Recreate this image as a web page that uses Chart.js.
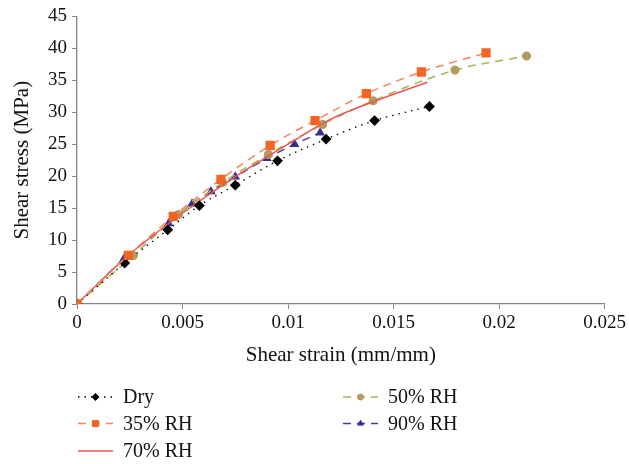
<!DOCTYPE html>
<html lang="en">
<head>
    <meta charset="UTF-8">
    <title>Shear stress vs shear strain</title>
    <script src="https://cdn.jsdelivr.net/npm/chart.js"></script>
    <style>
        html, body { margin: 0; padding: 0; background: #fff; }
        #wrap { width: 629px; height: 464px; position: relative; }
    </style>
</head>
<body>
    <div id="wrap"><canvas id="chart"></canvas></div>

    <script>
        // values
        const dryX = [0, 0.00226, 0.0043, 0.0058, 0.0075, 0.0095, 0.0118, 0.0141, 0.0167];
        const dryY = [0, 6.4, 11.6, 15.4, 18.6, 22.4, 25.8, 28.7, 30.9];

        const rh35X = [0, 0.00243, 0.00456, 0.00682, 0.00915, 0.01128, 0.01371, 0.01632, 0.01938];
        const rh35Y = [0, 7.6, 13.7, 19.5, 24.8, 28.7, 32.9, 36.3, 39.3];

        const rh50X = [0, 0.00267, 0.00481, 0.0069, 0.00907, 0.01164, 0.01403, 0.01791, 0.0213];
        const rh50Y = [0, 7.6, 14.0, 19.0, 23.4, 28.1, 31.8, 36.6, 38.8];

        const rh70X = [0, 0.0025, 0.005, 0.0075, 0.01, 0.012, 0.014, 0.0166];
        const rh70Y = [0, 7.8, 14.2, 19.9, 25.0, 28.9, 31.6, 34.7];

        const rh90X = [0, 0.00221, 0.00434, 0.00545, 0.00635, 0.0075, 0.009, 0.01031, 0.01152];
        const rh90Y = [0, 7.0, 12.6, 15.7, 17.6, 19.9, 22.8, 25.0, 26.8];

        const xTicks = [0, 0.005, 0.01, 0.015, 0.02, 0.025];
        const yTicks = [0, 5, 10, 15, 20, 25, 30, 35, 40, 45];

        const FONT = "'Liberation Serif', 'DejaVu Serif', serif";

        function pts(xs, ys) {
            return xs.map((x, i) => ({x: x, y: ys[i]}));
        }

        const datasets = [{
            label: 'Dry',
            data: pts(dryX, dryY),
            order: 1,
            borderColor: '#000',
            borderWidth: 1.3,
            borderDash: [1.5, 5],
            pointStyle: 'rectRot',
            pointRadius: 4.5,
            pointBackgroundColor: '#000',
            pointBorderColor: '#000',
            legendCol: 0, legendRow: 0
        }, {
            label: '35% RH',
            data: pts(rh35X, rh35Y),
            order: 0,
            borderColor: '#F5855A',
            borderWidth: 1.5,
            borderDash: [8, 6],
            pointStyle: 'rect',
            pointRadius: 5.5,
            pointBackgroundColor: '#F26522',
            pointBorderColor: '#F26522',
            legendCol: 0, legendRow: 1
        }, {
            label: '70% RH',
            data: pts(rh70X, rh70Y),
            order: 1,
            borderColor: '#EC5555',
            borderWidth: 1.5,
            borderDash: [],
            pointRadius: 0,
            legendCol: 0, legendRow: 2
        }, {
            label: '50% RH',
            data: pts(rh50X, rh50Y),
            order: 1,
            borderColor: '#A6B44E',
            borderWidth: 1.5,
            borderDash: [8, 6],
            pointStyle: 'circle',
            pointRadius: 3.8,
            pointBackgroundColor: '#B39B62',
            pointBorderColor: '#B39B62',
            legendCol: 1, legendRow: 0
        }, {
            label: '90% RH',
            data: pts(rh90X, rh90Y),
            order: 1,
            borderColor: '#3F3F9F',
            borderWidth: 1.5,
            borderDash: [8, 6],
            pointStyle: 'triangle',
            pointRadius: 4,
            pointBackgroundColor: '#2E3192',
            pointBorderColor: '#2E3192',
            legendCol: 1, legendRow: 1
        }];

        // two-column legend under the plot, drawn on the canvas
        const sideLegend = {
            id: 'sideLegend',
            afterDraw(chart) {
                const ctx = chart.ctx;
                const colX = [78, 343];
                const rowY = [397, 423.5, 451];
                ctx.save();
                chart.data.datasets.forEach(ds => {
                    const x0 = colX[ds.legendCol];
                    const y = rowY[ds.legendRow];
                    ctx.strokeStyle = ds.borderColor;
                    ctx.lineWidth = ds.borderWidth;
                    ctx.setLineDash(ds.borderDash || []);
                    ctx.beginPath();
                    ctx.moveTo(x0, y);
                    ctx.lineTo(x0 + 35, y);
                    ctx.stroke();
                    ctx.setLineDash([]);
                    if (ds.pointRadius > 0) {
                        ctx.fillStyle = ds.pointBackgroundColor;
                        ctx.strokeStyle = ds.pointBorderColor;
                        ctx.lineWidth = 1;
                        Chart.helpers.drawPoint(ctx, {
                            pointStyle: ds.pointStyle,
                            radius: ds.pointRadius * 0.8,
                            borderWidth: 1,
                            rotation: 0
                        }, x0 + 17.5, y);
                    }
                    ctx.fillStyle = '#111';
                    ctx.font = '20px ' + FONT;
                    ctx.textBaseline = 'middle';
                    ctx.textAlign = 'left';
                    ctx.fillText(ds.label, x0 + 45, y + 1);
                });
                ctx.restore();
            }
        };

        new Chart('chart', {
            type: 'line',
            data: {datasets: datasets},
            plugins: [sideLegend],
            options: {
                responsive: true,
                maintainAspectRatio: false,
                animation: false,
                layout: {padding: {top: 15, right: 24, bottom: 96, left: 0}},
                elements: {line: {cubicInterpolationMode: 'monotone', fill: false}},
                plugins: {legend: {display: false}, tooltip: {enabled: false}},
                scales: {
                    x: {
                        type: 'linear',
                        min: 0, max: 0.025,
                        afterBuildTicks: s => { s.ticks = xTicks.map(v => ({value: v})); },
                        afterFit: s => { s.height = 64; },
                        grid: {drawOnChartArea: false, drawTicks: true, tickLength: 5, color: '#868686'},
                        border: {color: '#868686', width: 1.3},
                        ticks: {color: '#111', padding: 3, maxRotation: 0, font: {family: FONT, size: 19},
                                callback: v => String(v)},
                        title: {display: true, text: 'Shear strain (mm/mm)', color: '#111',
                                font: {family: FONT, size: 21}, padding: {top: 0, bottom: 0}}
                    },
                    y: {
                        min: 0, max: 45,
                        afterBuildTicks: s => { s.ticks = yTicks.map(v => ({value: v})); },
                        afterFit: s => { s.width = 77; },
                        grid: {drawOnChartArea: false, drawTicks: true, tickLength: 5, color: '#868686'},
                        border: {color: '#868686', width: 1.3},
                        ticks: {color: '#111', padding: 5, font: {family: FONT, size: 19}},
                        title: {display: true, text: 'Shear stress (MPa)', color: '#111',
                                font: {family: FONT, size: 21}, padding: {top: 10, bottom: 0}}
                    }
                }
            }
        });
    </script>
</body>
</html>
